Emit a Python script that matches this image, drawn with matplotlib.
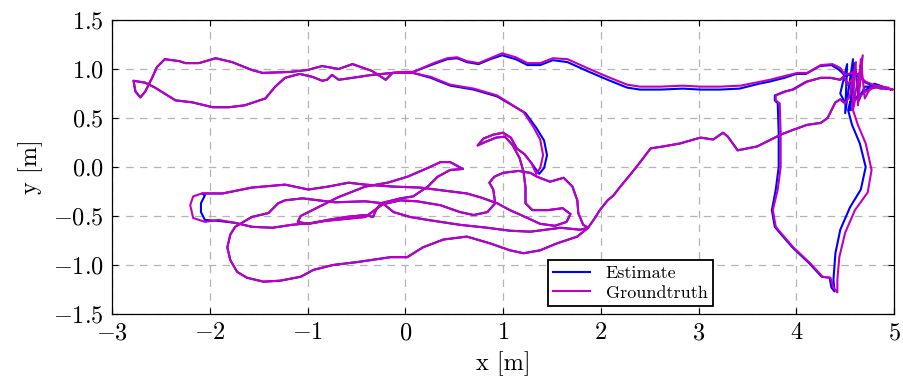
import matplotlib
matplotlib.use("Agg")
import matplotlib.pyplot as plt
import numpy as np

plt.rcParams["font.family"] = "serif"
plt.rcParams["font.serif"] = ["cmr10"]
plt.rcParams["mathtext.fontset"] = "cm"
plt.rcParams["axes.formatter.use_mathtext"] = True

# trajectory pieces, metres (x, y)
top_gt = [(4.94, 0.81), (4.86, 0.81), (4.71, 0.87), (4.60, 0.97), (4.50, 0.94), (4.45, 1.01),
          (4.37, 1.05), (4.25, 1.04), (4.11, 0.96), (4.01, 0.96), (3.89, 0.93), (3.73, 0.89),
          (3.63, 0.87), (3.43, 0.83), (3.22, 0.82), (3.02, 0.82), (2.84, 0.83), (2.61, 0.82),
          (2.40, 0.82), (2.27, 0.84), (2.07, 0.92), (1.86, 1.01), (1.66, 1.10), (1.51, 1.11),
          (1.38, 1.06), (1.25, 1.06), (1.13, 1.12), (0.99, 1.16), (0.87, 1.11), (0.75, 1.06),
          (0.63, 1.08), (0.53, 1.12), (0.43, 1.11), (0.29, 1.06), (0.08, 0.97), (0.00, 0.97)]
top_est = [(4.94, 0.80), (4.86, 0.80), (4.71, 0.86), (4.60, 0.96), (4.50, 0.93), (4.44, 0.99),
           (4.36, 1.04), (4.24, 1.03), (4.10, 0.95), (4.00, 0.95), (3.88, 0.91), (3.72, 0.87),
           (3.62, 0.85), (3.42, 0.80), (3.22, 0.79), (3.02, 0.79), (2.84, 0.80), (2.61, 0.79),
           (2.40, 0.79), (2.27, 0.81), (2.07, 0.89), (1.86, 0.98), (1.66, 1.07), (1.51, 1.09),
           (1.38, 1.04), (1.25, 1.04), (1.13, 1.10), (0.99, 1.14), (0.87, 1.10), (0.75, 1.05),
           (0.63, 1.07), (0.53, 1.11), (0.43, 1.10), (0.29, 1.05), (0.08, 0.97), (0.00, 0.97)]
top_loop = [(-0.13, 0.96), (-0.20, 0.89), (-0.34, 0.98), (-0.54, 1.05), (-0.68, 1.00), (-0.85, 1.03),
            (-1.00, 0.99), (-1.18, 0.97), (-1.46, 0.96), (-1.57, 0.99), (-1.77, 1.07), (-1.94, 1.11),
            (-2.11, 1.06), (-2.25, 1.06), (-2.31, 1.08), (-2.46, 1.10), (-2.54, 1.02), (-2.59, 0.91),
            (-2.66, 0.77), (-2.71, 0.71), (-2.76, 0.77), (-2.78, 0.88), (-2.66, 0.86), (-2.56, 0.81),
            (-2.35, 0.68), (-2.18, 0.66), (-1.97, 0.61), (-1.80, 0.61), (-1.64, 0.63), (-1.43, 0.70),
            (-1.33, 0.82), (-1.23, 0.91), (-1.08, 0.95), (-0.95, 0.92), (-0.85, 0.88), (-0.80, 0.89),
            (-0.75, 0.94), (-0.68, 0.89), (-0.54, 0.91), (-0.34, 0.94), (-0.13, 0.96), (0.08, 0.96)]
down_gt = [(0.26, 0.92), (0.46, 0.84), (0.70, 0.80), (0.94, 0.73), (1.10, 0.63), (1.21, 0.56),
           (1.31, 0.41), (1.38, 0.28), (1.41, 0.12), (1.38, -0.01), (1.34, -0.07)]
down_est = [(0.26, 0.91), (0.46, 0.83), (0.70, 0.79), (0.94, 0.72), (1.11, 0.62), (1.23, 0.55),
            (1.34, 0.40), (1.42, 0.27), (1.45, 0.12), (1.42, -0.01), (1.37, -0.07)]
tangle = [(1.29, 0.04), (1.22, 0.13), (1.14, 0.19), (1.08, 0.30), (1.00, 0.35), (0.90, 0.33),
          (0.80, 0.29), (0.74, 0.22), (0.83, 0.26), (0.93, 0.30), (1.02, 0.31), (1.10, 0.22),
          (1.17, 0.09), (1.21, -0.05), (1.23, -0.21), (1.23, -0.37), (1.30, -0.44), (1.46, -0.44),
          (1.61, -0.42), (1.69, -0.48), (1.65, -0.56), (1.53, -0.60), (1.38, -0.58), (1.25, -0.52),
          (1.07, -0.44), (0.94, -0.37), (0.77, -0.31), (0.63, -0.27)]
band_a = [(0.39, -0.24), (0.15, -0.21), (-0.12, -0.20), (-0.41, -0.18), (-0.58, -0.16), (-0.79, -0.20),
          (-0.99, -0.23), (-1.23, -0.18), (-1.57, -0.21), (-1.87, -0.27), (-2.08, -0.27)]
bend_gt = [(-2.17, -0.30), (-2.20, -0.39), (-2.17, -0.52), (-2.05, -0.56), (-1.91, -0.54)]
bend_est = [(-2.05, -0.29), (-2.09, -0.37), (-2.09, -0.46), (-2.05, -0.54), (-1.91, -0.55)]
band_b = [(-1.74, -0.57), (-1.57, -0.61), (-1.36, -0.62), (-1.16, -0.59), (-0.95, -0.57), (-0.79, -0.54),
          (-0.61, -0.51), (-0.41, -0.49), (-0.33, -0.51), (-0.30, -0.44), (-0.25, -0.37), (-0.05, -0.32),
          (0.08, -0.30), (0.23, -0.20), (0.33, -0.10), (0.46, -0.03), (0.59, -0.02), (0.46, 0.05),
          (0.36, 0.05), (0.23, -0.01), (0.02, -0.10), (-0.18, -0.16), (-0.41, -0.20), (-0.69, -0.31),
          (-0.89, -0.41), (-1.07, -0.50), (-1.10, -0.56), (-0.99, -0.58), (-0.82, -0.55), (-0.61, -0.53),
          (-0.41, -0.51), (-0.23, -0.38), (-0.05, -0.34), (0.12, -0.35), (0.36, -0.39), (0.56, -0.46),
          (0.70, -0.49), (0.84, -0.46), (0.92, -0.37), (0.90, -0.23), (0.86, -0.16), (0.91, -0.10),
          (1.00, -0.06), (1.16, -0.04), (1.28, -0.06), (1.35, -0.10)]
side_loop = [(1.48, -0.15), (1.62, -0.11), (1.71, -0.20), (1.76, -0.34), (1.77, -0.47), (1.82, -0.59),
             (1.87, -0.62)]
bottom = [(1.76, -0.71), (1.55, -0.78), (1.38, -0.85), (1.21, -0.88), (1.07, -0.85), (0.87, -0.78),
          (0.63, -0.71), (0.39, -0.74), (0.18, -0.82), (0.02, -0.92), (-0.15, -0.92), (-0.49, -0.97),
          (-0.74, -1.00), (-0.94, -1.05), (-1.07, -1.12), (-1.28, -1.16), (-1.45, -1.17), (-1.62, -1.13),
          (-1.72, -1.07), (-1.79, -0.95), (-1.82, -0.82), (-1.79, -0.69), (-1.74, -0.61), (-1.57, -0.51),
          (-1.40, -0.47), (-1.30, -0.37), (-1.23, -0.34), (-1.05, -0.32), (-0.89, -0.34), (-0.72, -0.36),
          (-0.41, -0.35), (-0.23, -0.37), (-0.12, -0.46), (0.05, -0.51), (0.23, -0.54), (0.56, -0.59),
          (0.84, -0.62), (1.07, -0.65), (1.28, -0.66), (1.59, -0.62), (1.79, -0.64), (1.87, -0.62)]
climb = [(1.94, -0.52), (1.99, -0.44), (2.07, -0.34), (2.13, -0.29), (2.20, -0.20), (2.30, -0.08),
         (2.38, 0.02), (2.51, 0.19), (2.64, 0.21), (2.81, 0.24), (3.02, 0.30), (3.15, 0.28),
         (3.25, 0.35), (3.30, 0.31), (3.40, 0.17), (3.60, 0.21), (3.84, 0.33), (3.97, 0.38),
         (4.11, 0.43), (4.25, 0.45), (4.32, 0.50), (4.37, 0.60), (4.40, 0.66), (4.45, 0.69),
         (4.50, 0.65)]
hover_gt = [(4.55, 0.73), (4.61, 1.07), (4.57, 0.58), (4.68, 1.14), (4.63, 0.63), (4.66, 1.10),
            (4.70, 0.70), (4.76, 0.81), (4.86, 0.81), (4.99, 0.79), (4.84, 0.83), (4.71, 0.77),
            (4.60, 0.68)]
hover_est = [(4.45, 0.75), (4.52, 1.05), (4.50, 0.55), (4.58, 1.10), (4.55, 0.58), (4.60, 1.06),
             (4.64, 0.68), (4.70, 0.82), (4.85, 0.82), (4.97, 0.79), (4.80, 0.85), (4.62, 0.72),
             (4.55, 0.66)]
right_gt = [(4.58, 0.58), (4.63, 0.43), (4.71, 0.24), (4.77, -0.03), (4.73, -0.26), (4.60, -0.44),
            (4.50, -0.67), (4.44, -0.92), (4.42, -1.15), (4.42, -1.28), (4.38, -1.23), (4.35, -1.13),
            (4.27, -1.12), (4.14, -0.98), (3.97, -0.82), (3.84, -0.67), (3.79, -0.61), (3.76, -0.44),
            (3.81, -0.23), (3.84, 0.00), (3.84, 0.35), (3.83, 0.65), (3.79, 0.68), (3.79, 0.73),
            (3.89, 0.77), (3.97, 0.79), (4.11, 0.87), (4.25, 0.91), (4.35, 0.91), (4.45, 0.89),
            (4.48, 0.92), (4.53, 0.84), (4.60, 0.94)]
right_est = [(4.53, 0.58), (4.57, 0.43), (4.65, 0.24), (4.71, 0.00), (4.66, -0.23), (4.55, -0.41),
             (4.45, -0.64), (4.40, -0.88), (4.38, -1.15), (4.39, -1.27), (4.36, -1.23), (4.34, -1.13),
             (4.26, -1.12), (4.13, -0.98), (3.96, -0.82), (3.83, -0.67), (3.78, -0.61), (3.75, -0.44),
             (3.79, -0.23), (3.82, 0.00), (3.82, 0.35), (3.81, 0.65), (3.78, 0.68), (3.78, 0.73),
             (3.88, 0.77), (3.96, 0.79), (4.10, 0.87), (4.25, 0.91), (4.35, 0.91), (4.45, 0.89),
             (4.48, 0.92), (4.53, 0.84), (4.60, 0.94)]

gt = np.array(top_gt + top_loop + down_gt + tangle + band_a + bend_gt + band_b
              + side_loop + bottom + climb + hover_gt + right_gt)
est = np.array(top_est + top_loop + down_est + tangle + band_a + bend_est + band_b
               + side_loop + bottom + climb + hover_est + right_est)

fig = plt.figure(figsize=(9.04, 3.86), dpi=100)
ax = fig.add_axes([0.1239, 0.1865, 0.8651, 0.7617])

ax.plot(est[:, 0], est[:, 1], color="#0000ff", lw=1.5, label="Estimate")
ax.plot(gt[:, 0], gt[:, 1], color="#bf00bf", lw=1.5, label="Groundtruth")

ax.set_xlim(-3, 5)
ax.set_ylim(-1.5, 1.5)
ax.set_xticks(np.arange(-3, 6, 1))
ax.set_yticks(np.arange(-1.5, 1.51, 0.5))
ax.yaxis.set_major_formatter(matplotlib.ticker.FuncFormatter(lambda v, p: f"${v:.1f}$"))
ax.grid(True, color="#b4b4b4", ls=(0, (6, 5)), lw=0.9)
ax.set_axisbelow(True)
ax.tick_params(direction="in", top=True, right=True, labelsize=17.5, length=4, width=0.8, pad=6)
for s in ax.spines.values():
    s.set_linewidth(0.9)
ax.set_xlabel("x [m]", fontsize=17.5, labelpad=5)
ax.set_ylabel("y [m]", fontsize=17.5, labelpad=7)

leg = ax.legend(loc="lower left", bbox_to_anchor=(0.5575, 0.027), borderaxespad=0,
                fancybox=False, edgecolor="black", framealpha=1, fontsize=13,
                handlelength=2.0, borderpad=0.3, labelspacing=0.2, handletextpad=0.9)
leg.get_frame().set_linewidth(1.3)

fig.savefig("out.png", dpi=100)
